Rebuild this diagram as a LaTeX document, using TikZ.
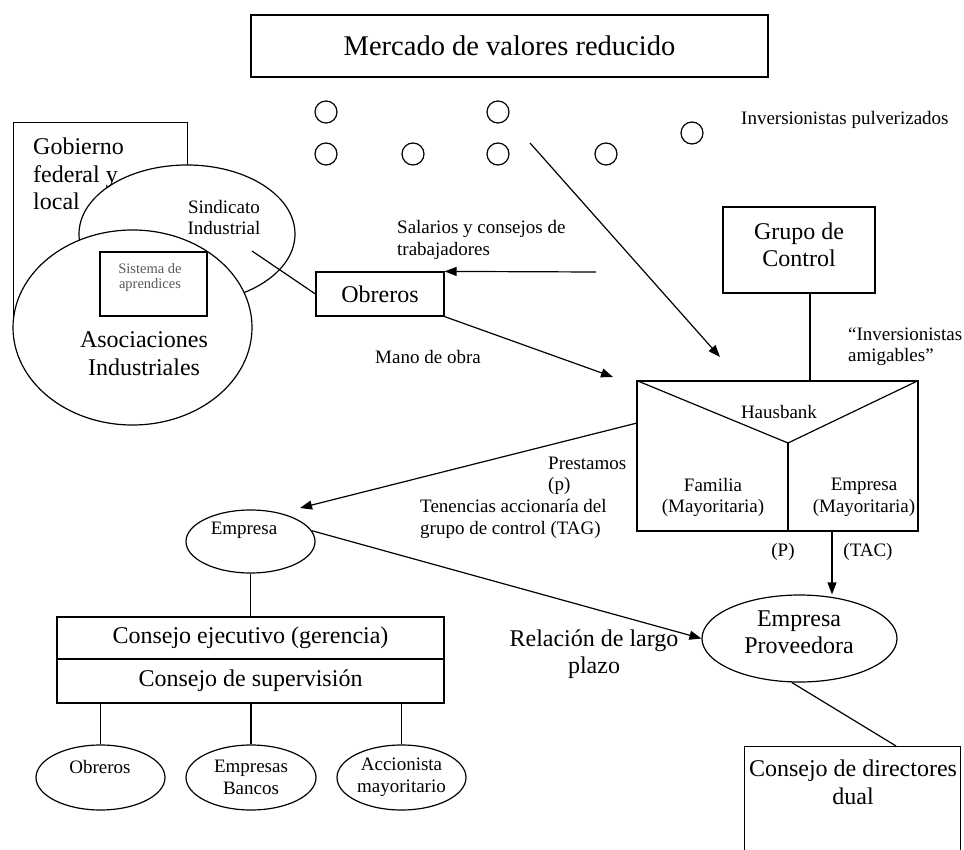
\documentclass[tikz,border=0pt]{standalone}
\usepackage{fontspec}
\setmainfont{Liberation Serif}
\usetikzlibrary{arrows.meta,calc,shapes.geometric}
\begin{document}
\begin{tikzpicture}[x=1pt,y=-1pt,
  big/.style={font=\fontsize{24}{27.5}\selectfont},
  small/.style={font=\fontsize{19}{21.5}\selectfont},
  txt/.style={inner sep=0pt,align=center},
  ltxt/.style={inner sep=0pt,align=left,anchor=west},
  shp/.style={draw,line width=1.2pt,inner sep=0pt,fill=white},
  rbox/.style={shp,rectangle},
  ebox/.style={shp,ellipse},
  conn/.style={line width=1.2pt},
  arr/.style={conn,-{Triangle[length=12pt,width=9pt]}},
  dot/.style={draw,circle,line width=1.2pt,minimum size=22pt,inner sep=0pt}]
\useasboundingbox (0,0) rectangle (964,850);
\clip (0,0) rectangle (964,850);

% top market box
\node[rbox,minimum width=517pt,minimum height=62pt,font=\fontsize{28.5}{30}\selectfont] (mer) at (509.5,46) {Mercado de valores reducido};

% scattered investors
\node[dot] (c1) at (326,112) {};
\node[dot] (c2) at (498,112) {};
\node[dot] (c3) at (326,154) {};
\node[dot] (c4) at (413,154) {};
\node[dot] (c5) at (498,154) {};
\node[dot] (c6) at (606,154) {};
\node[dot] (c7) at (692,133) {};
\node[ltxt,small] (invp) at (741,120) {Inversionistas pulverizados};

% government / unions / associations cluster
\node[draw,line width=1.2pt,minimum width=174pt,minimum height=205pt,anchor=north west,inner sep=0pt] (gob) at (13,122) {};
\node[ebox,minimum width=216pt,minimum height=138pt] (sind) at (187,234) {};
\node[ebox,minimum width=239pt,minimum height=195pt] (asoc) at (132.5,327.5) {};
\node[rbox,minimum width=107pt,minimum height=64pt] (sis) at (153.5,284) {};
\node[ltxt,big,align=left] (gobt) at (33,174) {Gobierno\\federal y\\local};
\node[txt,small] (sindt) at (224,217.5) {Sindicato\\Industrial};
\node[txt,big] (asoct) at (144,353.5) {Asociaciones\\Industriales};
\node[txt,font=\fontsize{14.5}{15}\selectfont,text=black!65] (sist) at (150,277.5) {Sistema de\\aprendices};

% workers
\node[rbox,big,minimum width=128pt,minimum height=44pt] (obr) at (380,294) {Obreros};
\coordinate (sc) at (252,251);
\draw[conn] (sc) -- (obr.west);
\coordinate (sal) at (596,272);
\draw[arr] (sal) -- (obr.north east);
\node[ltxt,small] (salt) at (397,240) {Salarios y consejos de\\trabajadores};
\coordinate (mo) at (613,377);
\draw[arr] (obr.south east) -- (mo);
\node[txt,small] (mot) at (428,357) {Mano de obra};

% arrow from investors
\coordinate (ms) at (530,143);
\coordinate (me) at (720,357);
\draw[arr] (ms) -- (me);

% control group
\node[rbox,minimum width=152pt,minimum height=86pt] (grp) at (799,250) {};
\node[txt,big] (grpt) at (799,245) {Grupo de\\Control};
\node[ltxt,small] (amig) at (848,346.5) {“Inversionistas\\amigables”};

% Hausbank box
\node[rbox,minimum width=281pt,minimum height=150pt] (hb) at (777.5,456) {};
\coordinate (g1) at (810,293);
\draw[conn] (g1) -- (g1 |- hb.north);
\coordinate (v) at (788,443);
\draw[conn] (hb.north west) -- (v) -- (hb.north east);
\draw[conn] (v) -- (v |- hb.south);
\node[txt,small] (hbt) at (779,412) {Hausbank};
\node[txt,small] (fam) at (713,497.5) {Familia\\(Mayoritaria)};
\node[txt,small] (empm) at (864,497.5) {Empresa\\(Mayoritaria)};

% arrow to supplier
\coordinate (h1) at (832,531);
\node[ebox,minimum width=195pt,minimum height=87pt] (prov) at (799.5,638.5) {};
\node[txt,big] (provt) at (799,632.5) {Empresa\\Proveedora};
\draw[arr] (h1) -- (h1 |- prov.north);
\node[txt,small] (pp) at (783,552) {(P)};
\node[txt,small] (tac) at (868,552) {(TAC)};

% loans arrow
\coordinate (p1) at (637,423);
\coordinate (p2) at (300,508);
\draw[arr] (p1) -- (p2);
\node[ltxt,small] (prest) at (548,476) {Prestamos\\(p)};
\node[ltxt,small] (ten) at (420,519) {Tenencias accionaría del\\grupo de control (TAG)};

% firm on the left
\node[ebox,minimum width=129pt,minimum height=63pt] (emp) at (250.5,541.5) {};
\node[txt,small] (empt) at (244,530) {Empresa};
\draw[arr] (emp.10) -- (prov.west);
\node[txt,big] (rel) at (594,654) {Relación de largo\\plazo};

% boards
\node[rbox,big,minimum width=387pt,minimum height=42pt] (ce) at (250.5,638) {Consejo ejecutivo (gerencia)};
\node[rbox,big,minimum width=387pt,minimum height=44pt] (cs) at (250.5,681) {Consejo de supervisión};
\draw[conn] (emp.south) -- (ce.north);

% stakeholders
\node[ebox,minimum width=129pt,minimum height=65pt] (ob2) at (100.5,777.5) {};
\node[txt,small] (ob2t) at (100,767) {Obreros};
\node[ebox,small,align=center,minimum width=130pt,minimum height=65pt] (eb) at (251,777.5) {Empresas\\Bancos};
\node[ebox,small,align=center,minimum width=129pt,minimum height=65pt] (ac) at (401.5,777.5) {Accionista\\mayoritario};
\draw[conn] (cs.south -| ob2.north) -- (ob2.north);
\draw[conn] (cs.south -| eb.north) -- (eb.north);
\draw[conn] (cs.south -| ac.north) -- (ac.north);

% dual board
\node[draw,line width=1.2pt,minimum width=216pt,minimum height=148pt,anchor=north west,inner sep=0pt] (dir) at (744,746) {};
\node[txt,big] (dirt) at (853,782.5) {Consejo de directores\\dual};
\draw[conn] (prov.-100) -- ($(dir.north west)!0.70!(dir.north east)$);
\end{tikzpicture}
\end{document}
